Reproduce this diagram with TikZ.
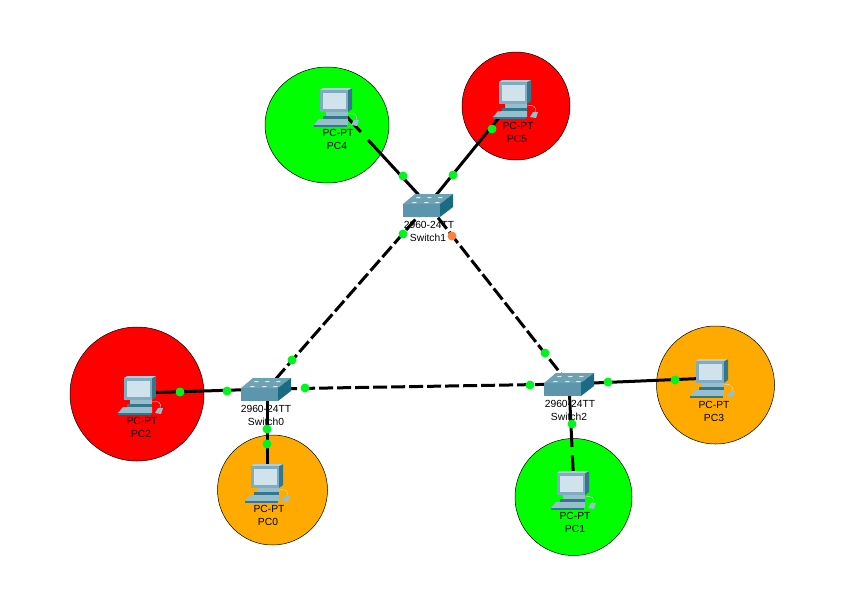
\documentclass[tikz,border=0pt]{standalone}
\usepackage{fontspec}
\setmainfont{Liberation Sans}
\usetikzlibrary{arrows.meta,positioning,calc}

\definecolor{zonegreen}{RGB}{0,255,0}
\definecolor{zonered}{RGB}{255,0,0}
\definecolor{zoneorange}{RGB}{255,170,0}
\definecolor{linkgreen}{RGB}{0,245,30}
\definecolor{linkorange}{RGB}{255,128,64}
\definecolor{pcframe}{RGB}{128,172,194}
\definecolor{pcscreen}{RGB}{208,226,236}
\definecolor{pcdark}{RGB}{52,118,140}
\definecolor{pckeys}{RGB}{150,190,205}
\definecolor{swfront}{RGB}{92,150,172}
\definecolor{swtop}{RGB}{108,162,180}
\definecolor{swside}{RGB}{26,108,132}

\tikzset{
  zone/.style={draw=black,line width=0.5pt},
  link/.style={line width=3pt,black},
  trunk/.style={link,dash pattern=on 14pt off 4pt,dash phase=2pt},
  devlabel/.style={inner sep=0pt,font=\fontsize{10.3}{12}\selectfont,text=black},
  linkdot/.style={circle,fill=linkgreen,inner sep=0pt,minimum size=9pt},
  faildot/.style={linkdot,fill=linkorange},
  anchorpt/.style={inner sep=0pt,minimum size=0pt},
}

% PC icon around the current origin
\newcommand{\pcicon}[2]{%
  \begin{scope}[shift={(#1,#2)}]
    \fill[pcdark] (12,-16) -- (16,-18) -- (16,3) -- (12,6) -- cycle;
    \fill[pcframe!60!white] (-16,-16) -- (-13,-18) -- (16,-18) -- (12,-16) -- cycle;
    \fill[pcframe] (-16,-16) rectangle (12,6);
    \fill[pcscreen] (-13,-13) rectangle (10,3);
    \fill[pckeys] (-10,6) rectangle (12,10);
    \fill[pcdark] (-13,10) rectangle (12,13);
    \fill[pckeys] (-22,19) -- (-17,13) -- (12,13) -- (12,19) -- cycle;
    \fill[pcdark] (-22,19) rectangle (11,20.5);
    \draw[white!60!pckeys,line width=0.4pt] (12,8) .. controls (18,6) and (22,9) .. (20,14);
    \fill[pckeys] (15,19) -- (18,14) -- (23,14) -- (21,20) -- cycle;
  \end{scope}}

% switch icon around the current origin
\newcommand{\swicon}[2]{%
  \begin{scope}[shift={(#1,#2)}]
    \fill[swfront] (-25,-1) rectangle (12,12);
    \fill[swtop] (-25,-1) -- (-13,-11) -- (25,-11) -- (12,-1) -- cycle;
    \fill[swside] (12,-1) -- (25,-11) -- (25,2) -- (12,12) -- cycle;
    \foreach \mx/\my in {-11/-8,0/-8,11/-8,-15/-3,-3/-3,8/-3}
      \fill[white!80!swtop] (\mx,\my) -- ++(4,0) -- ++(-1.5,1.2) -- ++(-4,0) -- cycle;
  \end{scope}}

\begin{document}
\begin{tikzpicture}[x=1pt,y=-1pt]
  \useasboundingbox (0,0) rectangle (843,595);

  % zones
  \draw[zone,fill=zonegreen] (327,125) ellipse [x radius=62,y radius=58];
  \draw[zone,fill=zonered] (516,106) circle [radius=54];
  \draw[zone,fill=zonered] (137,394) circle [radius=67];
  \draw[zone,fill=zoneorange] (272.5,490) circle [radius=55];
  \draw[zone,fill=zonegreen] (573.5,497) circle [radius=58.5];
  \draw[zone,fill=zoneorange] (715.5,385) circle [radius=59];

  % devices
  \node[anchorpt] (pc4) at (336,105) {};
  \node[anchorpt] (pc5) at (515,98) {};
  \node[anchorpt] (pc2) at (140,393) {};
  \node[anchorpt] (pc0) at (267,482) {};
  \node[anchorpt] (pc1) at (574,489) {};
  \node[anchorpt] (pc3) at (712,378) {};
  \node[anchorpt] (sw1) at (428,205) {};
  \node[anchorpt] (sw0) at (267,389) {};
  \node[anchorpt] (sw2) at (569,384) {};

  % links
  \draw[link] (pc4) -- ($(pc4)!0.27!(sw1)$) ($(pc4)!0.35!(sw1)$) -- (sw1);
  \draw[link] (pc5) -- (sw1);
  \draw[link] (pc2) -- (sw0);
  \draw[link] (pc0) -- (sw0);
  \draw[link] (pc1) -- ($(pc1)!0.32!(sw2)$) ($(pc1)!0.40!(sw2)$) -- (sw2);
  \draw[link] (pc3) -- (sw2);
  \draw[trunk,dash phase=17pt] (sw1) -- (sw0);
  \draw[trunk] (sw1) -- (sw2);
  \draw[trunk] (sw0) -- (sw2);

  % icons
  \pcicon{336}{106}
  \pcicon{515}{98}
  \pcicon{140}{394}
  \pcicon{267}{482}
  \pcicon{573}{489}
  \pcicon{712}{377}
  \swicon{428}{205}
  \swicon{266}{389}
  \swicon{569}{384}

  % link lights
  \foreach \dx/\dy [count=\i] in {403/176,453/175,492/129,403/234,292/360,545/353,180/392,227/391,305/388,530/385,608/382,675/380,267/429,267/444,572/424}
    \node[linkdot] (dot\i) at (\dx,\dy) {};
  \node[faildot] (dotfail) at (452,236) {};

  % labels
  \node[devlabel] (pc4type) at (338,133) {PC-PT};
  \node[devlabel] (pc4name) at (337,146) {PC4};
  \node[devlabel] (pc5type) at (518,126) {PC-PT};
  \node[devlabel] (pc5name) at (517,139) {PC5};
  \node[devlabel] (pc2type) at (142,421) {PC-PT};
  \node[devlabel] (pc2name) at (141,434) {PC2};
  \node[devlabel] (pc0type) at (269,509) {PC-PT};
  \node[devlabel] (pc0name) at (268,522) {PC0};
  \node[devlabel] (pc1type) at (575,516) {PC-PT};
  \node[devlabel] (pc1name) at (575,529) {PC1};
  \node[devlabel] (pc3type) at (714,405) {PC-PT};
  \node[devlabel] (pc3name) at (714,418) {PC3};
  \node[devlabel] (sw1type) at (429,225) {2960-24TT};
  \node[devlabel] (sw1name) at (428,238) {Switch1};
  \node[devlabel] (sw0type) at (266,409) {2960-24TT};
  \node[devlabel] (sw0name) at (266,422) {Switch0};
  \node[devlabel] (sw2type) at (570,404) {2960-24TT};
  \node[devlabel] (sw2name) at (569,417) {Switch2};
\end{tikzpicture}
\end{document}
